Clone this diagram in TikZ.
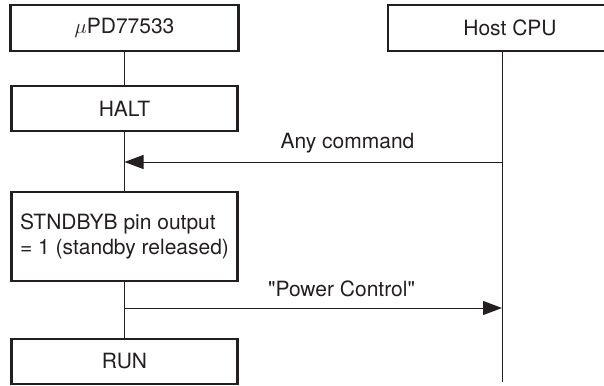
\documentclass[tikz,border=0pt]{standalone}
\usepackage{fontspec}
\setmainfont{TeX Gyre Heros}[Ligatures=TeXOff]
\usetikzlibrary{arrows.meta}
\definecolor{ink}{HTML}{231F20}
\tikzset{
    every node/.style={inner sep=0pt, text=ink, font=\fontsize{21}{25.6}\selectfont}
}
\tikzset{
    blk/.style={draw=ink, line width=2.2pt, minimum width=226pt, minimum height=45pt},
    life/.style={draw=ink, line width=1pt},
    msg/.style={draw=ink, line width=1pt, -{Triangle[length=19pt, width=14pt]}}
}

\begin{document}
\begin{tikzpicture}[x=1pt, y=-1pt]
    \useasboundingbox (0,0) rectangle (604,385);
    \clip (0,0) rectangle (604,385);

    \node (mpd) [blk, minimum width=228pt, minimum height=46pt] at (124.5, 28) {$\mu$PD77533};
    \node (host) [blk, minimum width=244pt, minimum height=46pt] at (510, 28) {Host CPU};
    \node (halt) [blk] at (124.5, 108.5) {HALT};
    \node (stby) [blk, minimum height=89pt, align=left] at (124.5, 236.5) {STNDBYB pin output\\= 1 (standby released)};
    \node (run) [blk] at (124.5, 361.5) {RUN};

    \coordinate (cmdA) at (124.5, 162);
    \coordinate (cmdB) at (502, 162);
    \coordinate (pwrA) at (124.5, 308);
    \coordinate (pwrB) at (502, 308);
    \coordinate (hostend) at (502, 382);

    \node (cmd) [anchor=base] at (347.5, 148) {Any command};
    \node (pwr) [anchor=base] at (341.5, 296.5) {"Power Control"};

    \draw[life] (mpd) -- (halt);
    \draw[life] (halt) -- (stby);
    \draw[life] (stby) -- (run);
    \draw[life] (host.south -| hostend) -- (hostend);

    \draw[msg] (cmdB) -- (cmdA);
    \draw[msg] (pwrA) -- (pwrB);
\end{tikzpicture}
\end{document}
